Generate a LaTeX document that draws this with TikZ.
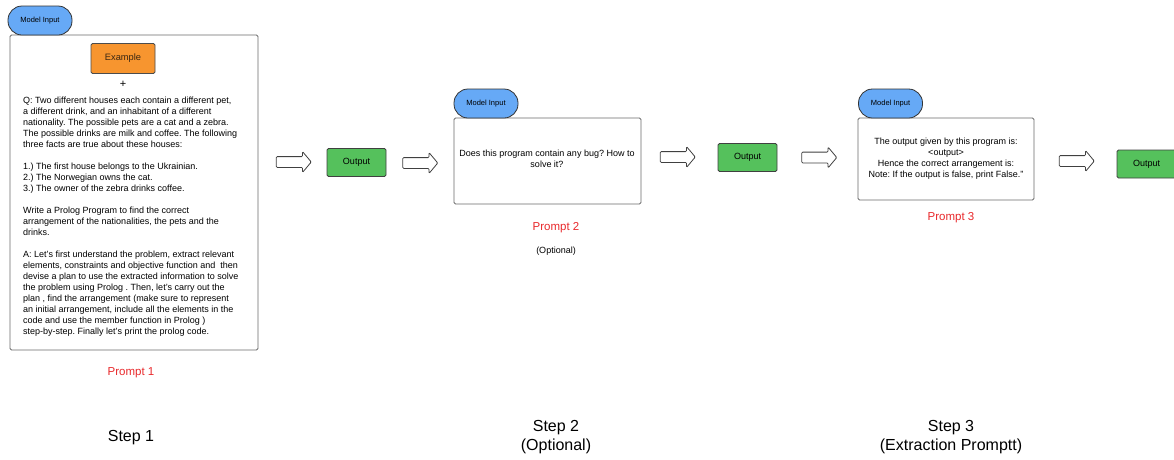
\documentclass[tikz,border=0pt]{standalone}
\usepackage{fontspec}
\setmainfont{Liberation Sans}
\frenchspacing
\usetikzlibrary{shapes.arrows}
\definecolor{pillblue}{HTML}{66A9F6}
\definecolor{outgreen}{HTML}{55C15C}
\definecolor{exorange}{HTML}{F7952F}
\definecolor{promptred}{HTML}{E8282B}
\definecolor{edgegray}{HTML}{6A6A6A}
\begin{document}
\begin{tikzpicture}[x=1pt,y=-1pt,
  pill/.style={draw=black!80,fill=pillblue,line width=0.8pt,rounded corners=14pt,
    minimum width=64pt,minimum height=29pt,inner sep=0pt,font=\fontsize{7.5}{9}\selectfont},
  promptbox/.style={draw=edgegray,fill=white,line width=0.9pt,rounded corners=1.5pt,inner sep=0pt},
  outbox/.style={draw=black!75,fill=outgreen,line width=0.8pt,rounded corners=1.5pt,
    minimum width=59pt,minimum height=28pt,inner sep=0pt,font=\fontsize{9}{11}\selectfont},
  blockarrow/.style={single arrow,draw=black!75,fill=white,line width=0.8pt,
    inner xsep=0pt,inner ysep=5pt,single arrow head extend=5pt,single arrow tip angle=100,
    minimum height=35pt,rounded corners=1pt},
  body/.style={inner sep=0pt,font=\fontsize{9}{11}\selectfont},
  promptlabel/.style={inner sep=0pt,text=promptred,font=\fontsize{11.5}{13}\selectfont},
  steplabel/.style={inner sep=0pt,align=center,font=\fontsize{16}{19}\selectfont}]
\useasboundingbox (0,0) rectangle (1174,459);

% Step 1: main prompt with example
\node[promptbox,minimum width=248pt,minimum height=315pt] (box1) at (134,192.5) {};
\node[pill] (in1) at (40,20.5) {Model Input};
\node[draw=black!70,fill=exorange,line width=0.8pt,rounded corners=1.5pt,minimum width=64pt,
  minimum height=30pt,inner sep=0pt,text=black!70!brown,font=\fontsize{9.3}{11}\selectfont]
  (example) at (123,58.5) {Example};
\node[inner sep=0pt,font=\fontsize{11}{13}\selectfont] (plus) at (123,84) {+};
\node[body,anchor=north west,align=left] (q1) at (23,97) {%
Q: Two different houses each contain a different pet,\\
a different drink, and an inhabitant of a different\\
nationality. The possible pets are a cat and a zebra.\\
The possible drinks are milk and coffee. The following\\
three facts are true about these houses:\\[11pt]
1.) The first house belongs to the Ukrainian.\\
2.) The Norwegian owns the cat.\\
3.) The owner of the zebra drinks coffee.\\[11pt]
Write a Prolog Program to find the correct\\
arrangement of the nationalities, the pets and the\\
drinks.\\[11pt]
A: Let's first understand the problem, extract relevant\\
elements, constraints and objective function and\ \ then\\
devise a plan to use the extracted information to solve\\
the problem using Prolog . Then, let's carry out the\\
plan , find the arrangement (make sure to represent\\
an initial arrangement, include all the elements in the\\
code and use the member function in Prolog )\\
step-by-step. Finally let's print the prolog code.};
\node[promptlabel] (p1) at (131,373) {Prompt 1};

% Flow after step 1
\node[blockarrow] (a1) at (291.5,162) {};
\node[outbox] (out1) at (356.5,162.5) {Output};
\node[blockarrow] (a2) at (418,163) {};

% Step 2: debugging prompt
\node[promptbox,minimum width=187pt,minimum height=86pt] (box2) at (547.5,161) {};
\node[pill] (in2) at (486,103.5) {Model Input};
\node[body,align=center] (q2) at (547,158.5) {Does this program contain any bug? How to\\solve it?};
\node[promptlabel] (p2) at (556,228) {Prompt 2};
\node[inner sep=0pt,font=\fontsize{9}{11}\selectfont] (opt2) at (556,251) {(Optional)};

\node[blockarrow] (a3) at (675.5,157) {};
\node[outbox] (out2) at (747.5,157.5) {Output};
\node[blockarrow] (a4) at (817,157.5) {};

% Step 3: extraction prompt
\node[promptbox,minimum width=176pt,minimum height=82pt] (box3) at (946,159) {};
\node[pill] (in3) at (890.5,103.5) {Model Input};
\node[body,align=center] (q3) at (946,158.5) {The output given by this program is:\\
  <output>\\Hence the correct arrangement is:\\Note: If the output is false, print False.''};
\node[promptlabel] (p3) at (951,217.5) {Prompt 3};

\node[blockarrow] (a5) at (1074.5,161) {};
\node[outbox] (out3) at (1146.5,164) {Output};

% Step captions
\node[steplabel] (s1) at (131,438) {Step 1};
\node[steplabel] (s2) at (556,437.5) {Step 2\\(Optional)};
\node[steplabel] (s3) at (951,437.5) {Step 3\\(Extraction Promptt)};
\end{tikzpicture}
\end{document}
